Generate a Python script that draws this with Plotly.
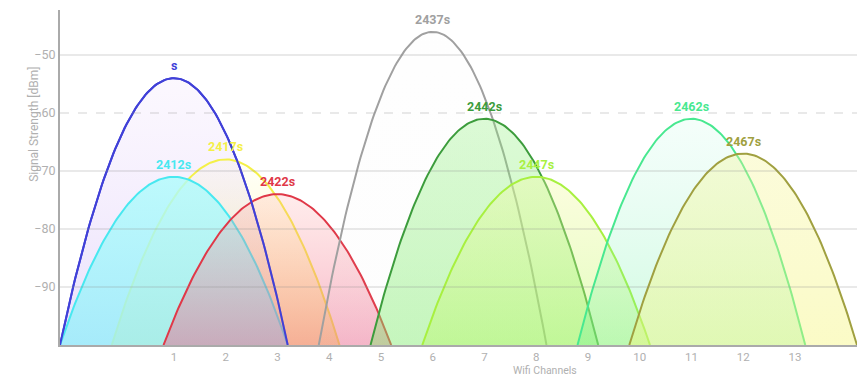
import numpy as np
import plotly.graph_objects as go

# ---- data ----
ssids = ["s", "2412s", "2417s", "2422s", "2437s", "2442s", "2447s", "2462s", "2467s"]
channels = [1, 1, 2, 3, 6, 7, 8, 11, 12]
signals = [-54, -71, -68, -74, -46, -61, -71, -61, -67]
line_colors = ["#4040d8", "#48e8f0", "#f4f048", "#e03848", "#a0a0a0",
               "#3c9c3c", "#a8f040", "#48e890", "#a0a040"]
fill_bottom = ["rgba(185,155,245,0.32)", "rgba(150,238,250,0.80)", "rgba(255,240,100,0.62)",
               "rgba(235,100,140,0.48)", "rgba(210,210,210,0.04)", "rgba(120,235,100,0.42)",
               "rgba(185,248,100,0.42)", "rgba(100,240,150,0.30)", "rgba(245,245,120,0.42)"]
fill_top = ["rgba(225,195,248,0.12)", "rgba(175,252,252,0.80)", "rgba(255,250,150,0.05)",
            "rgba(255,150,150,0.18)", "rgba(210,210,210,0.02)", "rgba(140,240,120,0.30)",
            "rgba(245,250,160,0.35)", "rgba(150,245,210,0.10)", "rgba(245,245,150,0.35)"]
tick_channels = list(range(1, 14))
y_ticks = [-90, -80, -70, -60, -50]
floor_dbm = -100
half_width = 2.2  # 22 MHz channel width / 5 MHz spacing / 2

fig = go.Figure()
order = [0, 2, 1, 3, 4, 5, 6, 7, 8]
curves = {}
for i in order:
    c, s = channels[i], signals[i]
    xs = np.linspace(c - half_width, c + half_width, 121)
    ys = s - (s - floor_dbm) * ((xs - c) / half_width) ** 2
    curves[i] = (xs, ys)
    fig.add_trace(go.Scatter(
        x=xs, y=ys, mode="lines", fill="toself",
        fillgradient=dict(type="vertical",
                          colorscale=[[0, fill_bottom[i]], [1, fill_top[i]]]),
        line=dict(color=line_colors[i], width=2), hoverinfo="skip", showlegend=False))

# blue outline stays crisp on top of the cyan fill
xs, ys = curves[0]
fig.add_trace(go.Scatter(x=xs, y=ys, mode="lines", line=dict(color=line_colors[0], width=2),
                         hoverinfo="skip", showlegend=False))

for v in y_ticks:
    fig.add_shape(type="line", xref="paper", x0=0, x1=1, yref="y", y0=v, y1=v,
                  line=dict(color="rgba(140,140,140,0.38)", width=1,
                            dash="dash" if v == -60 else "solid"),
                  layer="above")

for i in range(len(ssids)):
    fig.add_annotation(x=channels[i], y=signals[i], text=ssids[i], showarrow=False,
                       yanchor="bottom", yshift=3,
                       font=dict(family="Roboto", size=12.5, color=line_colors[i], weight="bold"))

fig.add_annotation(xref="paper", yref="paper", x=0.6085, y=-0.0761, text="Wifi Channels",
                   showarrow=False, yanchor="middle", borderpad=0,
                   font=dict(family="Roboto", size=10.5, color="#b0b0b0"))
fig.add_annotation(xref="paper", yref="paper", x=-0.044, y=0.66, text="Signal Strength [dBm]",
                   textangle=-90, showarrow=False, font=dict(family="Roboto", size=12, color="#b0b0b0"))

fig.update_layout(
    width=857, height=377,
    margin=dict(l=60, r=0, t=10, b=32, autoexpand=False),
    plot_bgcolor="white", paper_bgcolor="white",
    font=dict(family="Roboto", size=12, color="#b0b0b0"),
    xaxis=dict(range=[-1.2, 14.2], tickvals=tick_channels, showgrid=False, zeroline=False,
               showline=True, linecolor="#aaaaaa", linewidth=2, ticks="", ticklen=0,
               automargin=False, tickfont=dict(size=11.5, color="#b0b0b0")),
    yaxis=dict(range=[floor_dbm, -42.24], tickvals=y_ticks, showgrid=False, zeroline=False,
               showline=True, linecolor="#aaaaaa", linewidth=2, ticks="", automargin=False,
               tickfont=dict(size=12.5, color="#b0b0b0")),
)

fig.write_html("out.html", config={"displayModeBar": False},
               post_script="document.body.style.margin='0';document.body.style.overflow='hidden';")
